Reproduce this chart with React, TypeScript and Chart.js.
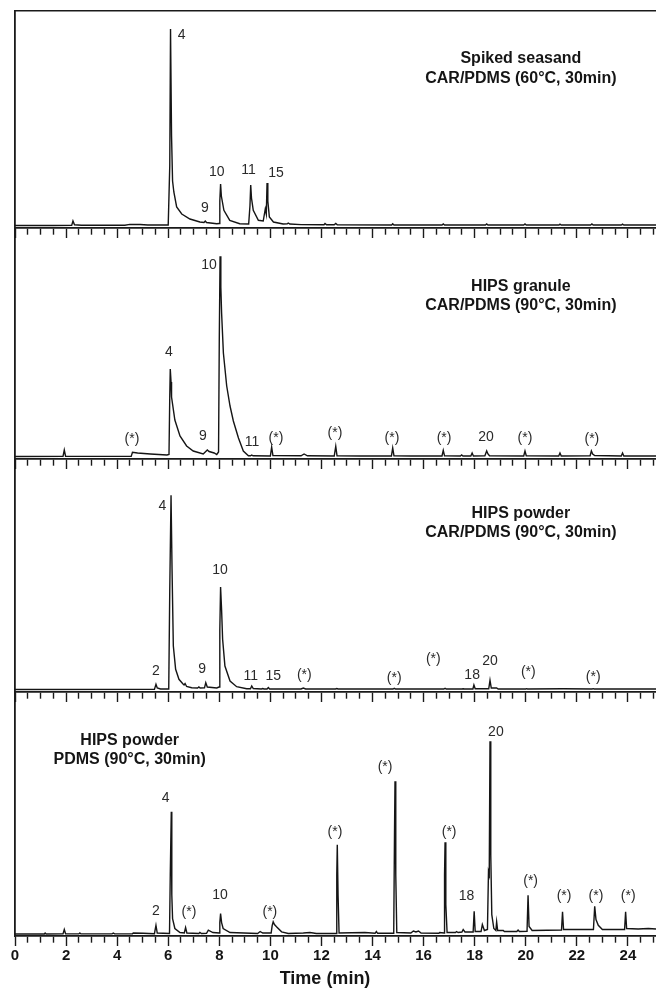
import React, { useEffect, useRef } from 'react';
import { Chart, registerables } from 'chart.js';

Chart.register(...registerables);

type Pt = [number, number];
type Txt = [string, number, number];

// Retention-time axis (min)
const X_MIN = 0;
const X_MAX = 25.1;
const MINOR_STEP = 0.5;
const MAJOR_STEP = 2;

// ---- Panel 1: Spiked seasand, CAR/PDMS (60°C, 30min) ----
const seasandTrace: Pt[] = [
  [0, 0.5], [1.5, 0.5], [2.22, 0.6], [2.27, 5], [2.33, 1.2], [2.6, 0.8], [4.3, 0.8], [4.5, 1.6], [4.9, 1.5], [5.2, 1],
  [6.0, 1], [6.06, 60], [6.09, 197], [6.13, 90], [6.17, 45], [6.22, 34], [6.33, 19], [6.53, 12], [6.85, 7], [7.24, 4],
  [7.4, 3.5], [7.45, 5], [7.5, 3.5], [7.9, 2.3], [7.99, 2.5], [8.02, 25], [8.05, 42], [8.08, 30], [8.18, 15.7], [8.41, 5.7],
  [8.8, 2.3], [9.15, 2], [9.2, 20], [9.23, 41], [9.26, 28], [9.33, 15.7], [9.53, 5.7], [9.72, 5], [9.8, 17], [9.84, 12],
  [9.87, 43], [9.9, 25], [9.96, 9], [10.12, 4], [10.5, 2], [10.66, 2.2], [10.7, 3], [10.76, 2], [11.2, 1.4], [12.1, 1.2],
  [12.14, 2.5], [12.2, 1.2], [12.5, 1.2], [12.56, 2.5], [12.62, 1.2], [14.75, 1], [14.79, 2.2], [14.84, 1], [16.72, 1],
  [16.77, 2], [16.82, 1], [18.42, 1], [18.47, 2], [18.52, 1], [19.92, 1], [19.97, 2], [20.02, 1], [21.3, 1], [21.34, 1.8],
  [21.39, 1], [22.54, 1], [22.59, 2], [22.64, 1], [23.74, 1], [23.79, 1.8], [23.84, 1], [25.1, 1],
];
const seasandLabels: Txt[] = [
  ['4', 6.53, 191], ['9', 7.44, 18], ['10', 7.9, 54], ['11', 9.14, 56], ['15', 10.22, 53],
];
const seasandTitle: Txt[] = [
  ['Spiked seasand', 19.81, 167], ['CAR/PDMS (60°C, 30min)', 19.81, 147],
];

// ---- Panel 2: HIPS granule, CAR/PDMS (90°C, 30min) ----
const granuleTrace: Pt[] = [
  [0, 0.5], [1.88, 0.6], [1.93, 7], [1.98, 0.8], [3, 0.6], [4.55, 0.6], [4.6, 4.7], [4.8, 4], [5.3, 3], [5.95, 2],
  [6.03, 2.5], [6.06, 60], [6.08, 88], [6.11, 75], [6.13, 60], [6.26, 37], [6.46, 21], [6.72, 11], [6.98, 6], [7.37, 3],
  [7.45, 5], [7.53, 7], [7.6, 5.5], [7.8, 4], [7.9, 2.5], [7.97, 5], [8.0, 120], [8.03, 200.7], [8.06, 170], [8.09, 144],
  [8.16, 104], [8.29, 71], [8.42, 51], [8.55, 36], [8.75, 19], [8.94, 6], [9.14, 1.3], [9.22, 1.2], [9.27, 2], [9.32, 1.2],
  [10.0, 1], [10.05, 10], [10.1, 1.5], [11.2, 1.2], [11.32, 3], [11.45, 1.2], [12.5, 1], [12.56, 10.7], [12.61, 1.2],
  [13.5, 1], [14.74, 1], [14.79, 9], [14.84, 1.2], [15.5, 1], [16.72, 1], [16.77, 6.7], [16.82, 1.2], [17.44, 1],
  [17.49, 2], [17.54, 1], [17.85, 1], [17.9, 4], [17.95, 1], [18.4, 1.2], [18.47, 6], [18.52, 3], [18.58, 1.2],
  [19.92, 1], [19.97, 6], [20.02, 1.2], [21.29, 1], [21.34, 4], [21.39, 1], [22.52, 1.2], [22.57, 6], [22.62, 3],
  [22.7, 1.5], [23.74, 1], [23.79, 4], [23.84, 1], [25.1, 1],
];
const granuleLabels: Txt[] = [
  ['(*)', 4.58, 18], ['4', 6.03, 105], ['9', 7.36, 21], ['10', 7.6, 192], ['11', 9.28, 15], ['(*)', 10.22, 19],
  ['(*)', 12.53, 24], ['(*)', 14.76, 19], ['(*)', 16.8, 19], ['20', 18.44, 20], ['(*)', 19.97, 19], ['(*)', 22.59, 18],
];
const granuleTitle: Txt[] = [
  ['HIPS granule', 19.81, 170], ['CAR/PDMS (90°C, 30min)', 19.81, 151],
];

// ---- Panel 3: HIPS powder, CAR/PDMS (90°C, 30min) ----
const powderCarTrace: Pt[] = [
  [0, 0.5], [5.46, 0.6], [5.52, 5.7], [5.57, 2], [5.7, 1], [6.02, 1], [6.06, 100], [6.11, 194.7], [6.15, 120], [6.2, 44],
  [6.29, 20.7], [6.42, 10.7], [6.58, 6], [6.62, 5], [6.66, 6.5], [6.72, 3.5], [6.92, 2.3], [7.15, 2], [7.2, 3], [7.25, 2],
  [7.42, 2.2], [7.47, 7.3], [7.53, 3], [7.9, 2], [7.99, 3], [8.02, 60], [8.05, 103], [8.09, 80], [8.13, 50.7], [8.22, 24],
  [8.42, 9], [8.68, 3.3], [9.07, 1.3], [9.22, 1.3], [9.27, 4], [9.33, 1.5], [9.65, 1], [9.7, 1.5], [9.75, 1], [9.87, 1],
  [9.92, 2.5], [9.97, 1], [11.2, 1], [11.29, 2], [11.38, 1], [12.55, 1], [12.6, 1.5], [12.65, 1], [14.8, 1], [14.85, 1.7],
  [14.9, 1], [16.79, 1], [16.84, 1.7], [16.89, 1], [17.5, 1], [17.55, 1.3], [17.6, 1], [17.93, 1], [17.97, 5], [18.02, 1.2],
  [18.55, 1.2], [18.6, 9.7], [18.65, 2], [18.86, 2], [18.92, 1], [20.0, 1], [20.03, 1.3], [20.08, 1], [21.47, 1.2],
  [22.6, 1], [22.64, 1.3], [22.68, 1], [25.1, 1],
];
const powderCarLabels: Txt[] = [
  ['4', 5.77, 184], ['10', 8.03, 120], ['2', 5.52, 19], ['9', 7.33, 20.5], ['11', 9.23, 14], ['15', 10.11, 14],
  ['(*)', 11.33, 14.5], ['(*)', 14.85, 11.5], ['(*)', 16.38, 30.5], ['18', 17.9, 14.5], ['20', 18.6, 29],
  ['(*)', 20.1, 18], ['(*)', 22.64, 13],
];
const powderCarTitle: Txt[] = [
  ['HIPS powder', 19.81, 176.5], ['CAR/PDMS (90°C, 30min)', 19.81, 157.5],
];

// ---- Panel 4: HIPS powder, PDMS (90°C, 30min) ----
const powderPdmsTrace: Pt[] = [
  [0, 0.5], [1.15, 0.5], [1.18, 1.5], [1.22, 0.5], [1.88, 0.6], [1.93, 5], [1.98, 0.8], [2.5, 0.6], [2.54, 1.5], [2.58, 0.6],
  [3.8, 0.6], [3.85, 1.5], [3.9, 0.6], [4.6, 0.8], [4.63, 1.5], [5.02, 1.3], [5.46, 0.8], [5.52, 9.3], [5.57, 1.5],
  [6.05, 1], [6.08, 60], [6.12, 123.3], [6.14, 40], [6.17, 16], [6.26, 6], [6.46, 2], [6.63, 1.5], [6.68, 7], [6.73, 1.5],
  [7.2, 1], [7.24, 2], [7.3, 1], [7.5, 1.2], [7.57, 4.3], [7.75, 2], [8.0, 1.5], [8.02, 12], [8.05, 21], [8.09, 12],
  [8.15, 6], [8.42, 2], [9.5, 1], [9.6, 3], [9.7, 1.5], [9.8, 1.5], [10.03, 1.5], [10.07, 9], [10.11, 12.7], [10.16, 10],
  [10.24, 7.7], [10.44, 2.7], [10.7, 1], [11.29, 1.5], [11.55, 2], [11.8, 1], [12.57, 1], [12.6, 60], [12.62, 90],
  [12.65, 40], [12.69, 1.5], [13.7, 2], [14.1, 1.2], [14.15, 3], [14.2, 1.2], [14.83, 1.2], [14.86, 100], [14.88, 154],
  [14.91, 60], [14.95, 2], [15.5, 1.5], [15.6, 3.5], [15.7, 2.5], [15.8, 3.5], [15.9, 1.5], [16.6, 1.2], [16.63, 2],
  [16.8, 1.5], [16.82, 60], [16.84, 92.7], [16.87, 30], [16.92, 2], [17.25, 2], [17.29, 3], [17.35, 2], [17.5, 2.5],
  [17.55, 5], [17.62, 2.5], [17.94, 2.5], [17.98, 23.3], [18.02, 3], [18.25, 3], [18.3, 10], [18.38, 4], [18.5, 5],
  [18.54, 63], [18.57, 60], [18.6, 194], [18.63, 80], [18.67, 20], [18.75, 6], [18.83, 4], [18.86, 12.7], [18.9, 4],
  [19.12, 4], [19.16, 3], [19.65, 3], [19.7, 4.5], [19.75, 3], [20.05, 3.3], [20.09, 39.3], [20.13, 8], [20.25, 4],
  [21.4, 4.5], [21.44, 22.7], [21.48, 5], [22.65, 5], [22.7, 28.3], [22.75, 15], [22.84, 9.3], [23.0, 5], [23.87, 5],
  [23.91, 22.7], [23.95, 6], [24.4, 5.5], [24.8, 6], [25.1, 5.5],
];
const powderPdmsLabels: Txt[] = [
  ['2', 5.52, 23], ['4', 5.9, 137], ['(*)', 6.81, 22.7], ['10', 8.03, 40], ['(*)', 9.98, 22.7], ['(*)', 12.53, 103],
  ['(*)', 14.49, 168], ['(*)', 17.0, 103], ['18', 17.68, 39], ['20', 18.83, 203], ['(*)', 20.19, 54],
  ['(*)', 21.5, 39], ['(*)', 22.75, 39], ['(*)', 24.01, 39],
];
const powderPdmsTitle: Txt[] = [
  ['HIPS powder', 4.49, 195], ['PDMS (90°C, 30min)', 4.49, 175.3],
];

const X_TITLE = 'Time (min)';
const X_TITLE_AT = 12.14;

const FONT = "'Liberation Sans', Arial, Helvetica, sans-serif";
const INK = '#151515';

interface PanelCfg {
  trace: Pt[];
  labels: Txt[];
  title: Txt[];
  top: number;
  height: number;
  yMin: number;
  yMax: number;
  padTop: number;
  padBottom: number;
  topBorder: boolean;
  bottom: boolean;
}

const panels: PanelCfg[] = [
  { trace: seasandTrace, labels: seasandLabels, title: seasandTitle, top: 0, height: 238, yMin: -2, yMax: 215, padTop: 11, padBottom: 0, topBorder: true, bottom: false },
  { trace: granuleTrace, labels: granuleLabels, title: granuleTitle, top: 228, height: 241, yMin: -2, yMax: 229, padTop: 0, padBottom: 0, topBorder: false, bottom: false },
  { trace: powderCarTrace, labels: powderCarLabels, title: powderCarTitle, top: 459, height: 243, yMin: -2, yMax: 231, padTop: 0, padBottom: 0, topBorder: false, bottom: false },
  { trace: powderPdmsTrace, labels: powderPdmsLabels, title: powderPdmsTitle, top: 692, height: 300, yMin: -1.5, yMax: 243.5, padTop: 0, padBottom: 26, topBorder: false, bottom: true },
];

const isMajor = (v: number) => Math.abs(v / MAJOR_STEP - Math.round(v / MAJOR_STEP)) < 1e-6;

function makeTextPlugin(p: PanelCfg) {
  return {
    id: 'panelText',
    afterDatasetsDraw(chart: any) {
      const { ctx } = chart;
      const x = chart.scales.x;
      const y = chart.scales.y;
      ctx.save();
      ctx.textAlign = 'center';
      ctx.textBaseline = 'middle';
      ctx.fillStyle = '#2a2a2a';
      ctx.font = `14px ${FONT}`;
      for (const [s, t, v] of p.labels) ctx.fillText(s, x.getPixelForValue(t), y.getPixelForValue(v));
      ctx.fillStyle = INK;
      ctx.font = `bold 16px ${FONT}`;
      for (const [s, t, v] of p.title) ctx.fillText(s, x.getPixelForValue(t), y.getPixelForValue(v));
      if (p.bottom) {
        ctx.font = `bold 18px ${FONT}`;
        ctx.fillText(X_TITLE, x.getPixelForValue(X_TITLE_AT), x.bottom + 13);
      }
      ctx.restore();
    },
  };
}

function buildChart(canvas: HTMLCanvasElement, p: PanelCfg) {
  const scales: any = {
    x: {
      type: 'linear',
      position: 'bottom',
      min: X_MIN,
      max: X_MAX,
      grid: {
        display: true,
        drawOnChartArea: false,
        drawTicks: true,
        tickLength: 10,
        tickWidth: 1.4,
        tickColor: '#1a1a1a',
        tickBorderDash: (c: any) => (c && c.tick && !isMajor(c.tick.value) ? [6, 30] : []),
      },
      border: { display: true, color: '#1a1a1a', width: 1.7 },
      ticks: {
        display: p.bottom,
        stepSize: MINOR_STEP,
        autoSkip: false,
        maxRotation: 0,
        minRotation: 0,
        includeBounds: false,
        padding: 1,
        color: INK,
        font: { family: FONT, size: 15, weight: 'bold', lineHeight: '18px' },
        callback: (v: any) => (isMajor(Number(v)) ? String(Math.round(Number(v))) : ''),
      },
    },
    y: {
      type: 'linear',
      position: 'left',
      min: p.yMin,
      max: p.yMax,
      grid: { display: true, drawOnChartArea: false, drawTicks: false },
      border: { display: true, color: '#1a1a1a', width: 1.8 },
      ticks: { display: false },
    },
  };
  if (p.topBorder) {
    scales.xTop = {
      type: 'linear',
      axis: 'x',
      position: 'top',
      min: X_MIN,
      max: X_MAX,
      grid: { display: true, drawOnChartArea: false, drawTicks: false },
      border: { display: true, color: '#1a1a1a', width: 1.6 },
      ticks: { display: false },
    };
  }
  return new Chart(canvas, {
    type: 'line',
    data: {
      datasets: [
        {
          data: p.trace as any,
          borderColor: INK,
          borderWidth: 1.4,
          pointRadius: 0,
          tension: 0,
          fill: false,
        },
      ],
    },
    options: {
      responsive: false,
      animation: false,
      devicePixelRatio: 1,
      events: [],
      layout: { padding: { left: 15, right: 0, top: p.padTop, bottom: p.padBottom } },
      plugins: { legend: { display: false }, tooltip: { enabled: false }, title: { display: false } },
      scales,
    } as any,
    plugins: [makeTextPlugin(p)],
  });
}

export default function App() {
  const refs = useRef<(HTMLCanvasElement | null)[]>([]);
  useEffect(() => {
    const charts = panels.map((p, i) => buildChart(refs.current[i] as HTMLCanvasElement, p));
    return () => charts.forEach((c) => c.destroy());
  }, []);
  return (
    <div style={{ position: 'absolute', left: 0, top: 0, width: 656, height: 992, background: '#fff', overflow: 'hidden' }}>
      {panels.map((p, i) => (
        <canvas
          key={i}
          ref={(el) => { refs.current[i] = el; }}
          width={656}
          height={p.height}
          style={{ position: 'absolute', left: 0, top: p.top, width: 656, height: p.height }}
        />
      ))}
    </div>
  );
}
